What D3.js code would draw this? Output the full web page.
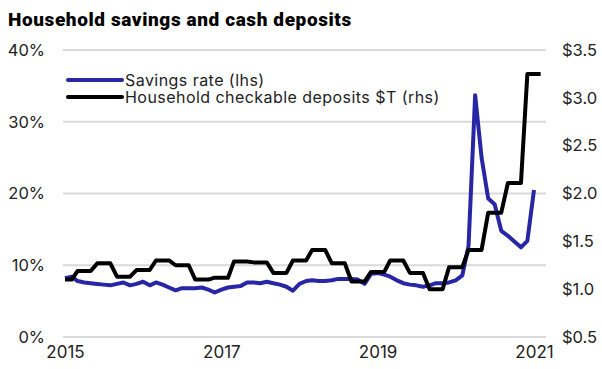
<!DOCTYPE html>
<meta charset="utf-8">
<style>
body { margin: 0; background: #fff; }
text { font-family: Inter, "Liberation Sans", sans-serif; fill: #222; }
.title { font-family: Roboto, sans-serif; font-weight: 900; font-size: 19px; letter-spacing: 0.6px; fill: #000; }
.tick text { font-size: 16.5px; }
.grid line { stroke: #d9d9d9; stroke-width: 2px; }
</style>
<body>
<script src="https://d3js.org/d3.v7.min.js"></script>
<script>
// monthly, Jan 2015 -> Jan 2021 (savings) and -> Feb 2021 (deposits, quarterly steps)
var savingsRate = [
  8.2, 8.4, 7.8, 7.6, 7.5, 7.4, 7.3, 7.2, 7.4, 7.6, 7.2, 7.4,
  7.7, 7.2, 7.6, 7.3, 6.9, 6.5, 6.8, 6.8, 6.8, 6.9, 6.6, 6.2,
  6.6, 6.9, 7.0, 7.1, 7.6, 7.6, 7.5, 7.7, 7.5, 7.3, 7.0, 6.45,
  7.4, 7.8, 7.9, 7.8, 7.8, 7.9, 8.1, 8.1, 8.1, 8.0, 7.4, 8.8,
  8.9, 8.7, 8.4, 7.9, 7.5, 7.3, 7.2, 7.0, 7.2, 7.5, 7.5, 7.6,
  7.9, 8.6, 12.7, 33.7, 25.0, 19.3, 18.5, 14.8, 14.1, 13.3, 12.5, 13.4,
  20.5
];
var deposits = [
  1.10, 1.10, 1.19, 1.19, 1.19, 1.27, 1.27, 1.27, 1.13, 1.13, 1.13, 1.20,
  1.20, 1.20, 1.30, 1.30, 1.30, 1.25, 1.25, 1.25, 1.10, 1.10, 1.10, 1.12,
  1.12, 1.12, 1.29, 1.29, 1.29, 1.28, 1.28, 1.28, 1.17, 1.17, 1.17, 1.30,
  1.30, 1.30, 1.41, 1.41, 1.41, 1.27, 1.27, 1.27, 1.08, 1.08, 1.08, 1.18,
  1.18, 1.18, 1.30, 1.30, 1.30, 1.17, 1.17, 1.17, 1.00, 1.00, 1.00, 1.23,
  1.23, 1.23, 1.41, 1.41, 1.41, 1.80, 1.80, 1.80, 2.11, 2.11, 2.11, 3.25,
  3.25, 3.25
];
var leftTicks = [0, 10, 20, 30, 40];
var rightTicks = [0.5, 1.0, 1.5, 2.0, 2.5, 3.0, 3.5];
var yearTicks = [2015, 2017, 2019, 2021];
var seriesNames = ["Savings rate (lhs)", "Household checkable deposits $T (rhs)"];
var colors = ["#2727a6", "#000000"];

var width = 602, height = 369;
var monthDate = function(i) { return new Date(2015, i, 1); };

var x = d3.scaleTime()
    .domain([new Date(2015, 0, 1), new Date(2021, 0, 1)])
    .range([65, 534]);
var yL = d3.scaleLinear().domain([0, 40]).range([337, 50]);
var yR = d3.scaleLinear().domain([0.5, 3.5]).range([337, 50]);

var svg = d3.select("body").append("svg")
    .attr("width", width)
    .attr("height", height);

svg.append("text")
    .attr("class", "title")
    .attr("x", 8)
    .attr("y", 26)
    .text("Household savings and cash deposits");

// gridlines
svg.append("g")
    .attr("class", "grid")
    .selectAll("line")
    .data(leftTicks)
    .enter().append("line")
      .attr("x1", 63)
      .attr("x2", 546)
      .attr("y1", function(d) { return yL(d); })
      .attr("y2", function(d) { return yL(d); });

var leftAxis = svg.append("g")
    .attr("transform", "translate(45,0)")
    .call(d3.axisLeft(yL).tickValues(leftTicks).tickSize(0).tickPadding(0)
      .tickFormat(function(d) { return d + "%"; }));

var rightAxis = svg.append("g")
    .attr("transform", "translate(562,0)")
    .call(d3.axisRight(yR).tickValues(rightTicks).tickSize(0).tickPadding(0)
      .tickFormat(function(d) { return "$" + d.toFixed(1); }));

var xAxis = svg.append("g")
    .attr("transform", "translate(0,346)")
    .call(d3.axisBottom(x).tickValues(yearTicks.map(function(y) { return new Date(y, 0, 1); }))
      .tickSize(0).tickPadding(0).tickFormat(d3.timeFormat("%Y")));
xAxis.selectAll("text").style("font-size", "17px").attr("dy", "0.71em");

[leftAxis, rightAxis, xAxis].forEach(function(a) {
  a.select(".domain").remove();
  a.selectAll("text").style("fill", "#222");
});

var lineL = d3.line()
    .x(function(d, i) { return x(monthDate(i)); })
    .y(function(d) { return yL(d); });
var lineR = d3.line()
    .x(function(d, i) { return x(monthDate(i)); })
    .y(function(d) { return yR(d); });

svg.append("path")
    .attr("d", lineL(savingsRate))
    .attr("fill", "none")
    .attr("stroke", colors[0])
    .attr("stroke-width", 4)
    .attr("stroke-linejoin", "round");

svg.append("path")
    .attr("d", lineR(deposits))
    .attr("fill", "none")
    .attr("stroke", colors[1])
    .attr("stroke-width", 4)
    .attr("stroke-linejoin", "round");

// legend
var legend = svg.append("g")
    .selectAll("g")
    .data(seriesNames)
    .enter().append("g")
      .attr("transform", function(d, i) { return "translate(68," + (80 + i * 17) + ")"; });
legend.append("line")
    .attr("x1", 0).attr("x2", 54)
    .attr("stroke", function(d, i) { return colors[i]; })
    .attr("stroke-width", 4)
    .attr("stroke-linecap", "round");
legend.append("text")
    .attr("x", 57)
    .attr("dy", "0.35em")
    .style("font-size", "16px")
    .style("letter-spacing", "0.45px")
    .text(function(d) { return d; });
</script>
</body>
